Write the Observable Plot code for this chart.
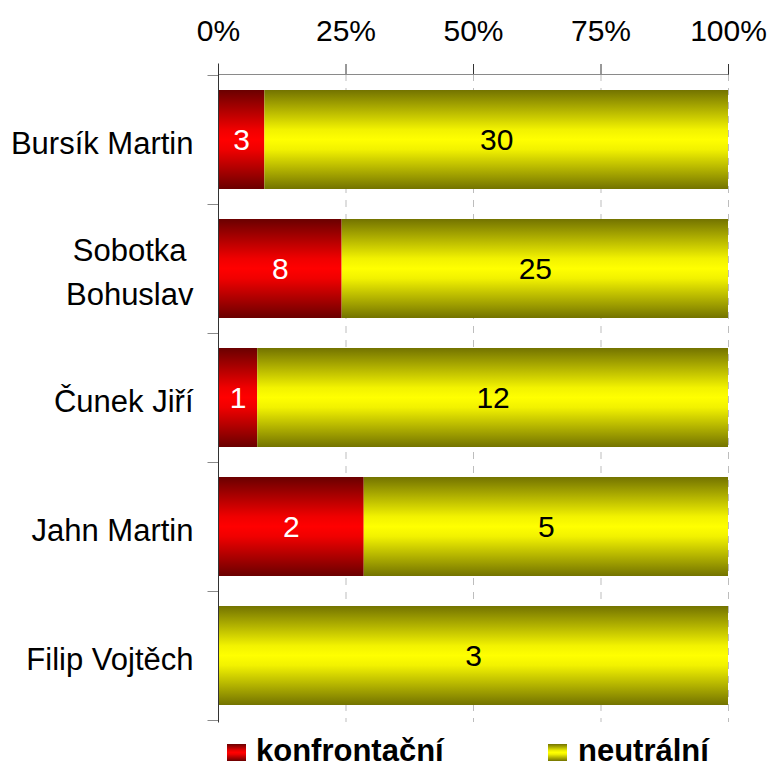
<!DOCTYPE html>
<html><head><meta charset="utf-8">
<script src="https://cdn.jsdelivr.net/npm/d3@7"></script>
<script src="https://cdn.jsdelivr.net/npm/@observablehq/plot@0.6"></script>
<style>
body{margin:0;background:#fff;font-family:"Liberation Sans",Arial,sans-serif;}
#chart svg, #legend svg{display:block;}
</style></head><body>
<div id="chart"></div>
<div id="legend"></div>
<script>
const categories = ["Bursík Martin", "Sobotka Bohuslav", "Čunek Jiří", "Jahn Martin", "Filip Vojtěch"];
const categoryLabels = ["Bursík Martin", "Sobotka\nBohuslav", "Čunek Jiří", "Jahn Martin", "Filip Vojtěch"];
const series = ["konfrontační", "neutrální"];
const konfrontacni = [3, 8, 1, 2, 0];
const neutralni = [30, 25, 12, 5, 3];
const xTicks = [0, 0.25, 0.5, 0.75, 1];
const tickLabels = ["0%", "25%", "50%", "75%", "100%"];

const data = categories.flatMap((c, i) => [
  {name: c, series: series[0], value: konfrontacni[i]},
  {name: c, series: series[1], value: neutralni[i]}
]);

const gradients = {
  gradK: [["0", "#6a0000"], ["0.4", "#f00000"], ["0.5", "#ff0000"], ["0.6", "#f00000"], ["1", "#6a0000"]],
  gradN: [["0", "#737300"], ["0.4", "#f2f200"], ["0.5", "#ffff00"], ["0.6", "#f2f200"], ["1", "#737300"]]
};
const fillUrl = {"konfrontační": "url(#gradK)", "neutrální": "url(#gradN)"};
const textFill = {"konfrontační": "white", "neutrální": "black"};

function addGradients(sel, suffix) {
  const defs = sel.append("defs");
  for (const [id, stops] of Object.entries(gradients)) {
    const lg = defs.append("linearGradient").attr("id", id + suffix)
      .attr("x1", 0).attr("y1", 0).attr("x2", 0).attr("y2", 1);
    for (const [o, c] of stops) lg.append("stop").attr("offset", o).attr("stop-color", c);
  }
}

const font = "'Liberation Sans', Arial, sans-serif";
const padIn = 0.23;

const chart = Plot.plot({
  width: 776,
  height: 730,
  marginTop: 74,
  marginLeft: 218,
  marginRight: 48,
  marginBottom: 8,
  style: {fontFamily: font, background: "white"},
  x: {domain: [0, 1], label: null},
  y: {domain: categories, paddingInner: padIn, paddingOuter: padIn / 2, axis: null, label: null},
  color: {type: "identity"},
  marks: [
    () => { const g = d3.create("svg:g"); addGradients(g, ""); return g.node(); },
    Plot.ruleX(xTicks.slice(1), {stroke: "#bdbdbd", strokeWidth: 1, strokeDasharray: "7,7"}),
    Plot.barX(data, Plot.stackX({
      x: "value", y: "name", z: "series", offset: "normalize",
      fill: d => fillUrl[d.series]
    })),
    Plot.text(data, Plot.stackX({
      x: "value", y: "name", z: "series", offset: "normalize",
      text: d => d.value > 0 ? String(d.value) : null,
      fill: d => textFill[d.series],
      fontSize: 30
    })),
    Plot.axisX(xTicks, {
      anchor: "top", tickSize: 11, tickPadding: 23, fontSize: 30, stroke: "#333", label: null,
      tickFormat: d => tickLabels[xTicks.indexOf(d)]
    }),
    (index, {x, y}, values, dims) => {
      const g = d3.create("svg:g").attr("fill", "none");
      const bw = y.bandwidth();
      const step = y.step ? y.step() : bw / (1 - padIn);
      const tops = categories.map(c => y(c) - (step - bw) / 2);
      const bounds = [...tops, tops[tops.length - 1] + step];
      const x0 = Math.round(x(0)) + 0.5, x1 = Math.round(x(1)) + 0.5;
      const yt = Math.round(dims.marginTop) + 0.5;
      const yb = Math.round(dims.height - dims.marginBottom) + 0.5;
      g.append("line").attr("x1", x0).attr("x2", x1).attr("y1", yt).attr("y2", yt)
        .attr("stroke", "#8a8a8a");
      for (const b of bounds) {
        const yy = Math.round(b) + 0.5;
        g.append("line").attr("x1", x0 - 11).attr("x2", x0).attr("y1", yy).attr("y2", yy)
          .attr("stroke", "#8a8a8a");
      }
      g.append("line").attr("x1", x0).attr("x2", x0).attr("y1", yt - 11).attr("y2", yb)
        .attr("stroke", "#333");
      return g.node();
    },
    Plot.text(categories, {
      y: d => d, text: (d, i) => categoryLabels[i],
      frameAnchor: "left", dx: -25, textAnchor: "end",
      fontSize: 31, lineHeight: 1.42, fill: "black"
    })
  ]
});
document.getElementById("chart").appendChild(chart);

// centre the lines of multi-line category labels (as in the reference)
d3.select(chart).selectAll("text").each(function() {
  const spans = d3.select(this).selectAll("tspan").nodes();
  if (spans.length < 2) return;
  const widths = spans.map(s => s.getComputedTextLength());
  const W = Math.max(...widths);
  spans.forEach((s, i) => s.setAttribute("x", -(W - widths[i]) / 2));
});

// Legend below the chart
const leg = d3.select("#legend").append("svg").attr("width", 776).attr("height", 38)
  .style("font-family", font);
addGradients(leg, "L");
const legendItems = [
  {label: series[0], grad: "gradKL", sx: 227, tx: 256},
  {label: series[1], grad: "gradNL", sx: 548, tx: 578}
];
for (const it of legendItems) {
  leg.append("rect").attr("x", it.sx).attr("y", 14).attr("width", 19).attr("height", 17)
    .attr("fill", `url(#${it.grad})`);
  leg.append("text").attr("x", it.tx).attr("y", 31).attr("font-size", 31)
    .attr("font-weight", "bold").attr("fill", "black").text(it.label);
}
</script>
</body></html>
